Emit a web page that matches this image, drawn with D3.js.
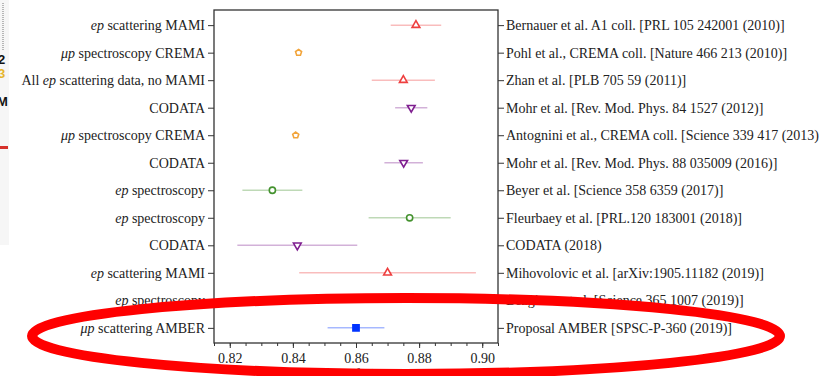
<!DOCTYPE html>
<html>
<head>
<meta charset="utf-8">
<script src="https://cdn.jsdelivr.net/npm/d3@7"></script>
<style>
  body { margin: 0; background: #fff; }
  svg { display: block; font-family: "Liberation Serif", "Times New Roman", serif; }
  .axis path, .axis line { stroke: #333; }
  .axis text { fill: #222; font-size: 14px; font-family: "Liberation Serif", serif; }
</style>
</head>
<body>
<div id="chart"></div>
<script>
// measurement labels (left axis)
var methods = [
	"ep scattering MAMI",
	"μp spectroscopy CREMA",
	"All ep scattering data, no MAMI",
	"CODATA",
	"μp spectroscopy CREMA",
	"CODATA",
	"ep spectroscopy",
	"ep spectroscopy",
	"CODATA",
	"ep scattering MAMI",
	"ep spectroscopy",
	"μp scattering AMBER"
];

// references (right axis)
var references = [
	"Bernauer et al. A1 coll. [PRL 105 242001 (2010)]",
	"Pohl et al., CREMA coll. [Nature 466 213 (2010)]",
	"Zhan et al. [PLB 705 59 (2011)]",
	"Mohr et al. [Rev. Mod. Phys. 84 1527 (2012)]",
	"Antognini et al., CREMA coll. [Science 339 417 (2013)]",
	"Mohr et al. [Rev. Mod. Phys. 88 035009 (2016)]",
	"Beyer et al. [Science 358 6359 (2017)]",
	"Fleurbaey et al. [PRL.120 183001 (2018)]",
	"CODATA (2018)",
	"Mihovolovic et al. [arXiv:1905.11182 (2019)]",
	"Bezginov et al. [Science 365 1007 (2019)]",
	"Proposal AMBER [SPSC-P-360 (2019)]"
];

// proton radius (fm) and error
var radius = [0.879, 0.8418, 0.875, 0.8775, 0.8409, 0.8751, 0.8335, 0.877, 0.8414, 0.870, 0.833, 0.860];
var errors = [0.008, 0.0007, 0.010, 0.0051, 0.0004, 0.0061, 0.0095, 0.013, 0.019, 0.028, 0.010, 0.009];
var groups = ["scatter", "muon", "scatter", "codata", "muon", "codata", "spectro", "spectro", "codata", "scatter", "spectro", "amber"];

var xTicks = [0.82, 0.84, 0.86, 0.88, 0.90];

// look of each group
var styles = {
	scatter: {color: "#ee3f3f", symbol: d3.symbolTriangle, size: 26, fill: "#fff"},
	muon:    {color: "#f2a43a", symbol: pentagon(), size: 24, fill: "#fff"},
	codata:  {color: "#7f1f90", symbol: d3.symbolTriangle, size: 26, fill: "#fff", flip: true},
	spectro: {color: "#44922f", symbol: d3.symbolCircle, size: 30, fill: "#fff"},
	amber:   {color: "#0033ff", symbol: d3.symbolSquare, size: 38, fill: "#0033ff"}
};

function pentagon() {
	return {
		draw: function(ctx, size) {
			var r = Math.sqrt(size / 2.38);
			for (var i = 0; i < 5; i++) {
				var a = -Math.PI / 2 + i * 2 * Math.PI / 5;
				if (i === 0) ctx.moveTo(r * Math.cos(a), r * Math.sin(a));
				else ctx.lineTo(r * Math.cos(a), r * Math.sin(a));
			}
			ctx.closePath();
		}
	};
}

var margin = {top: 10, right: 321, bottom: 33, left: 214};
var width = 819 - margin.left - margin.right,
	height = 376 - margin.top - margin.bottom;

var svgRoot = d3.select("#chart")
	.append("svg")
	.attr("width", 819)
	.attr("height", 376);

// leftovers of the slide on the far left
var edge = svgRoot.append("g");
edge.append("rect").attr("x", 0).attr("y", 0).attr("width", 9).attr("height", 245).attr("fill", "#f6f6f6");
edge.append("line").attr("x1", 3).attr("x2", 3).attr("y1", 3).attr("y2", 50)
	.attr("stroke", "#777").attr("stroke-dasharray", "1,1");
edge.append("text").attr("x", -2).attr("y", 64).text("2")
	.attr("font-family", "Liberation Sans").attr("font-weight", "bold").attr("font-size", 13).attr("fill", "#111");
edge.append("text").attr("x", -2).attr("y", 78).text("3")
	.attr("font-family", "Liberation Sans").attr("font-weight", "bold").attr("font-size", 13).attr("fill", "#e6b52c");
edge.append("text").attr("x", -3).attr("y", 106).text("M")
	.attr("font-family", "Liberation Sans").attr("font-weight", "bold").attr("font-size", 13).attr("fill", "#111");
edge.append("rect").attr("x", 0).attr("y", 146).attr("width", 8).attr("height", 3).attr("fill", "#d6312b");

var svg = svgRoot.append("g")
	.attr("transform", "translate(" + margin.left + "," + margin.top + ")");

var x = d3.scaleLinear()
	.domain([0.815, 0.905])
	.range([0, width]);

var y = d3.scalePoint()
	.domain(d3.range(methods.length))
	.range([0, height])
	.padding(0.55);

// frame
svg.append("rect")
	.attr("width", width)
	.attr("height", height)
	.attr("fill", "none")
	.attr("stroke", "#333")
	.attr("stroke-width", 1.3);

// x axis, minor then major ticks
svg.append("g")
	.attr("class", "axis")
	.attr("transform", "translate(0," + height + ")")
	.call(d3.axisBottom(x).tickValues(d3.range(0.815, 0.9051, 0.005)).tickSize(3).tickFormat(""))
	.call(function(g) { g.select(".domain").remove(); });

svg.append("g")
	.attr("class", "axis")
	.attr("transform", "translate(0," + height + ")")
	.call(d3.axisBottom(x).tickValues(xTicks).tickSize(5).tickPadding(5).tickFormat(d3.format(".2f")))
	.call(function(g) { g.select(".domain").remove(); });

// left axis with italic particles
var yLeft = svg.append("g")
	.attr("class", "axis")
	.call(d3.axisLeft(y).tickSize(6).tickPadding(3).tickFormat(function(i) { return methods[i]; }))
	.call(function(g) { g.select(".domain").remove(); });

yLeft.selectAll("text").each(function(i) {
	var t = d3.select(this).text("");
	methods[i].split(" ").forEach(function(w, k) {
		t.append("tspan")
			.style("font-style", (w === "ep" || w === "μp") ? "italic" : "normal")
			.text((k > 0 ? " " : "") + w);
	});
});

// right axis with references
svg.append("g")
	.attr("class", "axis")
	.attr("transform", "translate(" + width + ",0)")
	.call(d3.axisRight(y).tickSize(6).tickPadding(2).tickFormat(function(i) { return references[i]; }))
	.call(function(g) { g.select(".domain").remove(); });

// error bars
svg.selectAll(".err")
	.data(radius)
	.enter()
	.append("line")
	.attr("class", "err")
	.attr("x1", function(d, i) { return x(d - errors[i]); })
	.attr("x2", function(d, i) { return x(d + errors[i]); })
	.attr("y1", function(d, i) { return y(i); })
	.attr("y2", function(d, i) { return y(i); })
	.attr("stroke", function(d, i) { return styles[groups[i]].color; })
	.attr("stroke-opacity", 0.35)
	.attr("stroke-width", 1.5);

// markers
svg.selectAll(".pt")
	.data(radius)
	.enter()
	.append("path")
	.attr("class", "pt")
	.attr("d", function(d, i) {
		var s = styles[groups[i]];
		return d3.symbol().type(s.symbol).size(s.size)();
	})
	.attr("transform", function(d, i) {
		var s = styles[groups[i]];
		return "translate(" + x(d) + "," + y(i) + ")" + (s.flip ? " rotate(180)" : "");
	})
	.attr("fill", function(d, i) { return styles[groups[i]].fill; })
	.attr("stroke", function(d, i) { return styles[groups[i]].color; })
	.attr("stroke-width", 1.6);

// x label
svg.append("text")
	.attr("x", x(0.86))
	.attr("y", height + 36)
	.attr("text-anchor", "middle")
	.attr("font-size", 15)
	.attr("fill", "#222")
	.html('r<tspan font-size="11" dy="3">p</tspan><tspan dy="-3"> (fm)</tspan>');

// red highlight ring drawn over the chart
svgRoot.append("ellipse")
	.attr("cx", 406)
	.attr("cy", 336)
	.attr("rx", 374)
	.attr("ry", 38)
	.attr("fill", "none")
	.attr("stroke", "#ff0000")
	.attr("stroke-width", 10);
</script>
</body>
</html>
